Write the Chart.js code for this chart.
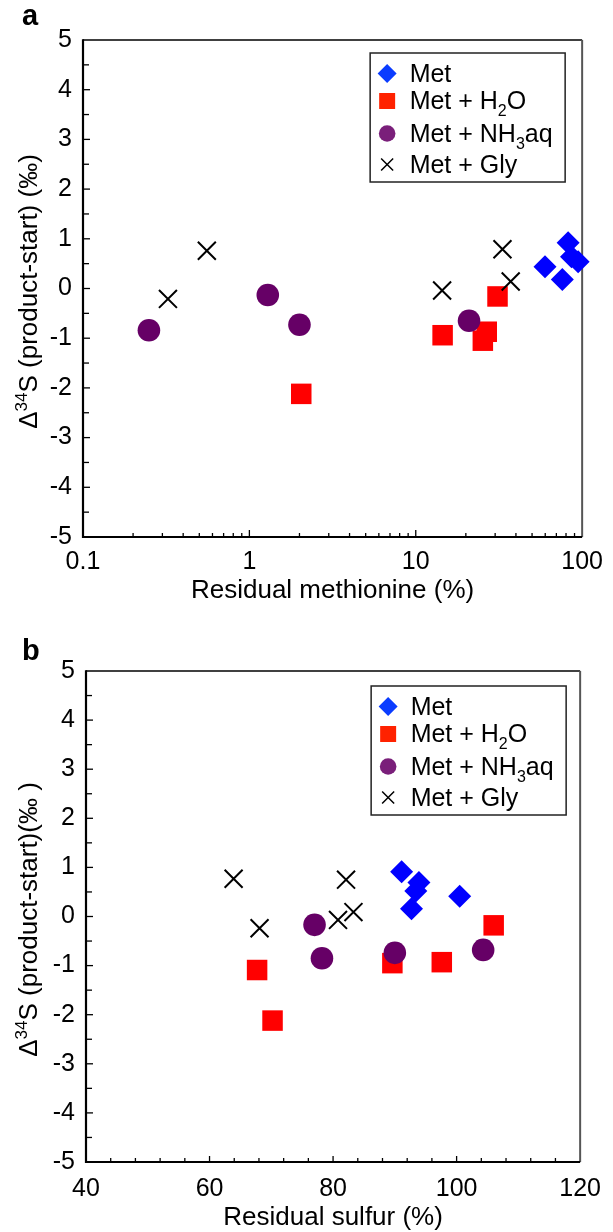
<!DOCTYPE html>
<html>
<head>
<meta charset="utf-8">
<script src="https://cdn.jsdelivr.net/npm/chart.js@4.4.1/dist/chart.umd.min.js"></script>
<style>
  html, body { margin: 0; padding: 0; background: #fff; }
  .panel { position: absolute; left: 0; width: 613px; height: 616px; }
</style>
</head>
<body>
<div class="panel" style="top:0"><canvas id="chartA"></canvas></div>
<div class="panel" style="top:616px"><canvas id="chartB"></canvas></div>
<script>
// panel a: residual methionine (%) vs delta 34S
const metA_x = [59.8, 76, 82.4, 86.3, 94.6];
const metA_y = [0.44, 0.18, 0.92, 0.64, 0.54];
const h2oA_x = [2.05, 14.5, 25.3, 26.7, 31.0];
const h2oA_y = [-2.12, -0.94, -1.05, -0.87, -0.16];
const nh3A_x = [0.249, 1.29, 2.0, 20.9];
const nh3A_y = [-0.84, -0.13, -0.73, -0.65];
const glyA_x = [0.324, 0.555, 14.4, 33.2, 37.2];
const glyA_y = [-0.21, 0.76, -0.04, 0.79, 0.14];

// panel b: residual sulfur (%) vs delta 34S
const metB_x = [91.1, 93.9, 93.4, 92.7, 100.5];
const metB_y = [0.91, 0.69, 0.52, 0.16, 0.41];
const h2oB_x = [67.7, 70.2, 89.6, 97.6, 106.0];
const h2oB_y = [-1.09, -2.12, -0.95, -0.93, -0.18];
const nh3B_x = [77.0, 78.2, 90.0, 104.3];
const nh3B_y = [-0.17, -0.85, -0.74, -0.68];
const glyB_x = [63.9, 68.1, 80.8, 82.1, 83.3];
const glyB_y = [0.77, -0.24, -0.07, 0.75, 0.09];

// axis tick labels
const logLabels = ['0.1', '1', '10', '100'];
const sulfurLabels = [40, 60, 80, 100, 120];

// legend text, with sub/superscripts
const legendLabels = [
  [{t: 'Met'}],
  [{t: 'Met + H'}, {t: '2', sub: true}, {t: 'O'}],
  [{t: 'Met + NH'}, {t: '3', sub: true}, {t: 'aq'}],
  [{t: 'Met + Gly'}]
];
const legendColors = ['#0a3cff', '#ff2200', '#7a1f7a', '#000000'];

const FONT = '"Liberation Sans", Arial, Helvetica, sans-serif';
Chart.defaults.font.family = FONT;
Chart.defaults.color = '#000';

const zip = (xs, ys) => xs.map((x, i) => ({x, y: ys[i]}));

function makeDatasets(met, h2o, nh3, gly) {
  return [
    {label: 'Met', data: met, pointStyle: 'rectRot', pointRadius: 11.5, backgroundColor: '#0000ff', borderWidth: 0, order: 1, clip: false},
    {label: 'Met + H2O', data: h2o, pointStyle: 'rect', pointRadius: 14.5, backgroundColor: '#ff0000', borderWidth: 0, order: 3, clip: false},
    {label: 'Met + NH3aq', data: nh3, pointStyle: 'circle', pointRadius: 11.3, backgroundColor: '#660066', borderWidth: 0, order: 2, clip: false},
    {label: 'Met + Gly', data: gly, pointStyle: 'crossRot', pointRadius: 12.7, borderColor: '#000', borderWidth: 2, order: 0, clip: false}
  ];
}

function drawRich(ctx, parts, x, y, size, align) {
  const fontOf = p => (p.sub || p.sup ? Math.round(size * 0.65) : size) + 'px ' + FONT;
  let w = 0;
  parts.forEach(p => { ctx.font = fontOf(p); w += ctx.measureText(p.t).width; });
  let cx = align === 'center' ? x - w / 2 : x;
  ctx.textAlign = 'left';
  ctx.textBaseline = 'alphabetic';
  parts.forEach(p => {
    ctx.font = fontOf(p);
    const dy = p.sub ? size * 0.28 : p.sup ? -size * 0.38 : 0;
    ctx.fillText(p.t, cx, y + dy);
    cx += ctx.measureText(p.t).width;
  });
}

const decor = {
  id: 'decor',
  beforeDatasetsDraw(chart, args, o) {
    const {ctx, chartArea: a, scales: {x, y}} = chart;
    ctx.save();
    ctx.strokeStyle = '#000';
    ctx.lineWidth = 1.3;
    // inward tick marks
    x.ticks.forEach(t => {
      const px = x.getPixelForValue(t.value);
      if (px < a.left + 1 || px > a.right - 1) return;
      const len = t.label ? o.xMajor : 4;
      ctx.beginPath();
      ctx.moveTo(px, a.bottom);
      ctx.lineTo(px, a.bottom - len);
      ctx.stroke();
    });
    y.ticks.forEach(t => {
      const py = y.getPixelForValue(t.value);
      if (py < a.top + 1 || py > a.bottom - 1) return;
      const len = t.label ? 7 : 6;
      ctx.beginPath();
      ctx.moveTo(a.left, py);
      ctx.lineTo(a.left + len, py);
      ctx.stroke();
    });
    // frame
    ctx.lineWidth = 1.5;
    ctx.beginPath();
    ctx.moveTo(a.left, a.top);
    ctx.lineTo(a.right, a.top);
    ctx.stroke();
    ctx.strokeStyle = '#555';
    ctx.lineWidth = 2;
    ctx.beginPath();
    ctx.moveTo(a.right, a.top);
    ctx.lineTo(a.right, a.bottom);
    ctx.stroke();
    ctx.strokeStyle = '#000';
    ctx.lineWidth = 2.2;
    ctx.beginPath();
    ctx.moveTo(a.left, a.top - 0.7);
    ctx.lineTo(a.left, a.bottom);
    ctx.lineTo(a.right, a.bottom);
    ctx.stroke();
    ctx.restore();
  },
  afterDraw(chart, args, o) {
    const {ctx, chartArea: a} = chart;
    ctx.save();
    ctx.fillStyle = '#000';
    // panel letter
    ctx.font = 'bold 29px ' + FONT;
    ctx.textAlign = 'left';
    ctx.textBaseline = 'alphabetic';
    ctx.fillText(o.letter, 22, o.letterY);
    // axis titles
    drawRich(ctx, [{t: o.xTitle}], (a.left + a.right) / 2, a.bottom + o.xTitleGap, 26, 'center');
    ctx.save();
    ctx.translate(37, (a.top + a.bottom) / 2 + 3);
    ctx.rotate(-Math.PI / 2);
    drawRich(ctx, [{t: 'Δ'}, {t: '34', sup: true}, {t: o.yTitle}], 0, 0, 26, 'center');
    ctx.restore();
    // legend box
    const bw = 195, bh = 129;
    const bx = a.right - o.legendRight - bw, by = a.top + o.legendTop;
    ctx.strokeStyle = '#222';
    ctx.lineWidth = 1.5;
    ctx.strokeRect(bx, by, bw, bh);
    const rowY = [20.5, 48, 80.5, 111.5];
    const legendRadius = [9.5, 11.3, 8.3, 8.5];
    chart.data.datasets.forEach((ds, i) => {
      const cy = by + rowY[i];
      ctx.fillStyle = legendColors[i];
      ctx.strokeStyle = legendColors[i];
      Chart.helpers.drawPoint(ctx, {
        pointStyle: ds.pointStyle, radius: legendRadius[i],
        borderWidth: ds.pointStyle === 'crossRot' ? 1.8 : 0, rotation: 0
      }, bx + 17, cy);
      ctx.fillStyle = '#000';
      drawRich(ctx, legendLabels[i], bx + 39.5, cy + 8.2, 25, 'left');
    });
    ctx.restore();
  }
};

function logTicks(scale) {
  const vals = [];
  [0.1, 1, 10].forEach(d => {
    for (let k = 1; k <= 9; k++) vals.push(Number((k * d).toPrecision(6)));
  });
  vals.push(100);
  scale.ticks = vals.map(v => ({value: v}));
}

const tickFont = {size: 25, family: FONT};

const yScale = width => ({
  min: -5, max: 5,
  grid: {display: false, drawTicks: false},
  border: {display: false},
  ticks: {
    stepSize: 0.5, autoSkip: false, font: tickFont, color: '#000', padding: 11,
    callback: v => Number.isInteger(v) ? String(v) : ''
  },
  afterFit: s => { s.width = width; }
});

new Chart(document.getElementById('chartA'), {
  type: 'scatter',
  data: {
    datasets: makeDatasets(zip(metA_x, metA_y), zip(h2oA_x, h2oA_y), zip(nh3A_x, nh3A_y), zip(glyA_x, glyA_y))
  },
  options: {
    responsive: true,
    maintainAspectRatio: false,
    animation: false,
    layout: {padding: {top: 40, right: 29, left: 0, bottom: 9}},
    scales: {
      x: {
        type: 'logarithmic', min: 0.1, max: 100,
        grid: {display: false, drawTicks: false},
        border: {display: false},
        afterBuildTicks: logTicks,
        ticks: {
          autoSkip: false, maxRotation: 0, font: tickFont, color: '#000', padding: 10,
          callback: v => {
            const i = [0.1, 1, 10, 100].findIndex(d => Math.abs(d - v) < 1e-9);
            return i >= 0 ? logLabels[i] : '';
          }
        },
        afterFit: s => { s.height = 70; }
      },
      y: yScale(83)
    },
    plugins: {
      legend: {display: false},
      tooltip: {enabled: false},
      decor: {
        letter: 'a', letterY: 25, xTitle: 'Residual methionine (%)', xTitleGap: 61,
        yTitle: 'S (product-start) (‰)', xMajor: 7, legendRight: 17, legendTop: 13
      }
    }
  },
  plugins: [decor]
});

new Chart(document.getElementById('chartB'), {
  type: 'scatter',
  data: {
    datasets: makeDatasets(zip(metB_x, metB_y), zip(h2oB_x, h2oB_y), zip(nh3B_x, nh3B_y), zip(glyB_x, glyB_y))
  },
  options: {
    responsive: true,
    maintainAspectRatio: false,
    animation: false,
    layout: {padding: {top: 55, right: 27, left: 0, bottom: 0}},
    scales: {
      x: {
        type: 'linear', min: 40, max: 120,
        grid: {display: false, drawTicks: false},
        border: {display: false},
        ticks: {
          stepSize: 4, autoSkip: false, maxRotation: 0, font: tickFont, color: '#000', padding: 12,
          callback: v => sulfurLabels.includes(v) ? String(v) : ''
        },
        afterFit: s => { s.height = 70; }
      },
      y: yScale(86)
    },
    plugins: {
      legend: {display: false},
      tooltip: {enabled: false},
      decor: {
        letter: 'b', letterY: 44, xTitle: 'Residual sulfur (%)', xTitleGap: 63,
        yTitle: 'S (product-start)(‰ )', xMajor: 6, legendRight: 14, legendTop: 15
      }
    }
  },
  plugins: [decor]
});
</script>
</body>
</html>
